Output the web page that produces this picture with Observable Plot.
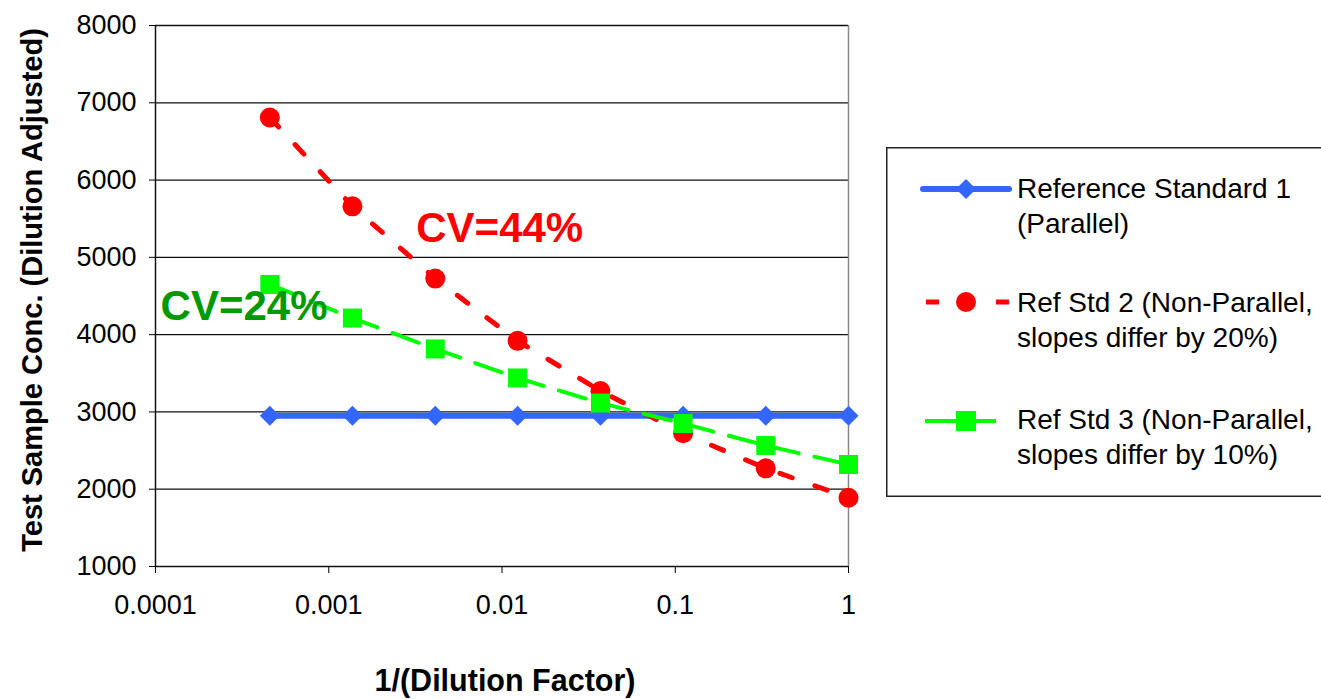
<!DOCTYPE html>
<html><head><meta charset="utf-8">
<script src="https://cdn.jsdelivr.net/npm/d3@7"></script>
<script src="https://cdn.jsdelivr.net/npm/@observablehq/plot@0.6"></script>
<style>
body{margin:0;background:#fff;font-family:"Liberation Sans",Arial,sans-serif;}
#wrap{position:relative;width:1321px;height:699px;overflow:hidden;background:#fff;}
#legend{position:absolute;left:886px;top:147px;}
</style></head><body><div id="wrap"></div>
<script>
// 1/(dilution factor) values
const dilution = [0.000457, 0.00137, 0.00412, 0.0123, 0.037, 0.111, 0.333, 1];
const refStd1 = [2950, 2950, 2950, 2950, 2950, 2950, 2950, 2950];
const refStd2 = [6810, 5660, 4725, 3920, 3270, 2725, 2270, 1890];
const refStd3 = [4650, 4215, 3815, 3440, 3115, 2850, 2565, 2320];
const seriesNames = [
  ["Reference Standard 1", "(Parallel)"],
  ["Ref Std 2 (Non-Parallel,", "slopes differ by 20%)"],
  ["Ref Std 3 (Non-Parallel,", "slopes differ by 10%)"]
];
const seriesColors = ["#3366FF", "#FF0000", "#00FF00"];
const xTicks = [0.0001, 0.001, 0.01, 0.1, 1];
const xTickLabels = ["0.0001", "0.001", "0.01", "0.1", "1"];
const yTicks = [1000, 2000, 3000, 4000, 5000, 6000, 7000, 8000];
const annotations = [
  {x: 0.0032, y: 5370, text: "CV=44%", color: "#FF0000"},
  {x: 0.000107, y: 4364, text: "CV=24%", color: "#009900"}
];
const xTitle = "1/(Dilution Factor)";
const yTitle = "Test Sample Conc. (Dilution Adjusted)";

const rows = (vals) => dilution.map((x, i) => ({x, y: vals[i]}));
const s1 = rows(refStd1), s2 = rows(refStd2), s3 = rows(refStd3);

const chart = Plot.plot({
  width: 1321, height: 699,
  marginLeft: 155, marginRight: 473, marginTop: 25, marginBottom: 133,
  style: {fontFamily: "'Liberation Sans', Arial, sans-serif", background: "white", color: "#000", overflow: "visible"},
  x: {type: "log", domain: [1e-4, 1]},
  y: {domain: [1000, 8000]},
  marks: [
    Plot.ruleY(yTicks, {stroke: "#111", strokeWidth: 1.3}),
    Plot.ruleX([1], {stroke: "#888", strokeWidth: 1.5}),
    Plot.ruleX([1e-4], {stroke: "#111", strokeWidth: 1.5}),
    Plot.axisY({ticks: yTicks, tickSize: 6, tickPadding: 13, fontSize: 27, color: "#000",
      tickFormat: d => String(d), label: null}),
    Plot.axisX({ticks: xTicks, tickSize: 7, tickPadding: 21, fontSize: 27, color: "#000",
      tickFormat: d => { const i = xTicks.indexOf(d); return i >= 0 ? xTickLabels[i] : d3.format("~g")(d); }, label: null}),
    Plot.line(s1, {x: "x", y: "y", stroke: seriesColors[0], strokeWidth: 6}),
    Plot.dot(s1, {x: "x", y: "y", symbol: "diamond2", r: 9, fill: seriesColors[0]}),
    Plot.line(s2, {x: "x", y: "y", stroke: seriesColors[1], strokeWidth: 5, strokeDasharray: "13,24"}),
    Plot.dot(s2, {x: "x", y: "y", symbol: "circle", r: 10, fill: seriesColors[1]}),
    Plot.line(s3, {x: "x", y: "y", stroke: seriesColors[2], strokeWidth: 4, strokeDasharray: "28,16"}),
    Plot.dot(s3, {x: "x", y: "y", symbol: "square", r: 10.7, fill: seriesColors[2]}),
    Plot.text(annotations, {x: "x", y: "y", text: "text", fill: "color", fontSize: 42, fontWeight: "bold", textAnchor: "start"}),
    Plot.text([yTitle], {frameAnchor: "left", dx: -123, dy: -6, rotate: -90, textAnchor: "middle", fontSize: 29, fontWeight: "bold", fill: "#000"}),
    Plot.text([xTitle], {frameAnchor: "bottom", dy: 124, dx: 3, textAnchor: "middle", fontSize: 30.5, fontWeight: "bold", fill: "#000"})
  ]
});
const wrap = document.getElementById("wrap");
wrap.appendChild(chart);

// Legend
const lg = d3.select(wrap).append("svg").attr("id", "legend")
  .attr("width", 436).attr("height", 351)
  .style("font-family", "'Liberation Sans', Arial, sans-serif");
lg.append("rect").attr("x", 0.75).attr("y", 0.75).attr("width", 500).attr("height", 348.5)
  .attr("fill", "white").attr("stroke", "#222").attr("stroke-width", 1.5);
const ys = [42, 155, 274];
// entry 1
lg.append("line").attr("x1", 37).attr("x2", 123).attr("y1", ys[0]).attr("y2", ys[0])
  .attr("stroke", seriesColors[0]).attr("stroke-width", 6).attr("stroke-linecap", "round");
lg.append("path").attr("d", d3.symbol(d3.symbolDiamond2, Math.PI * 81)()).attr("transform", `translate(80,${ys[0]})`).attr("fill", seriesColors[0]);
// entry 2
lg.append("line").attr("x1", 40).attr("x2", 53).attr("y1", ys[1]).attr("y2", ys[1]).attr("stroke", seriesColors[1]).attr("stroke-width", 5);
lg.append("line").attr("x1", 110).attr("x2", 123).attr("y1", ys[1]).attr("y2", ys[1]).attr("stroke", seriesColors[1]).attr("stroke-width", 5);
lg.append("circle").attr("cx", 80).attr("cy", ys[1]).attr("r", 10).attr("fill", seriesColors[1]);
// entry 3
lg.append("line").attr("x1", 39).attr("x2", 110).attr("y1", ys[2]).attr("y2", ys[2]).attr("stroke", seriesColors[2]).attr("stroke-width", 4);
lg.append("rect").attr("x", 70).attr("y", ys[2] - 10).attr("width", 20).attr("height", 20).attr("fill", seriesColors[2]);
const baselines = [[51, 86], [165, 200], [282, 317]];
seriesNames.forEach((lines, i) => {
  lines.forEach((t, j) => {
    lg.append("text").attr("x", 131).attr("y", baselines[i][j]).attr("font-size", 28).attr("fill", "#000").text(t);
  });
});
</script>
</body></html>
